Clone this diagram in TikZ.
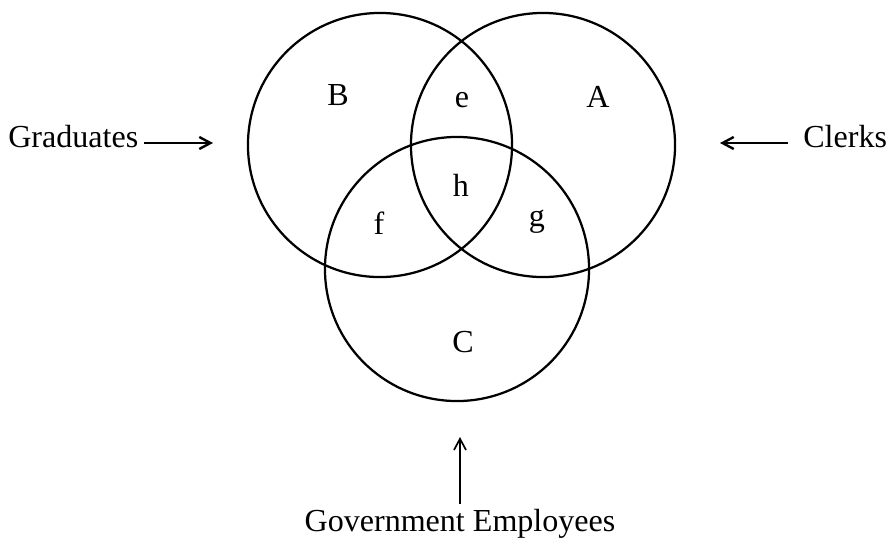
\documentclass[tikz,border=0pt]{standalone}
\usepackage{fontspec}
\setmainfont{Liberation Serif}
\usetikzlibrary{arrows.meta}

\begin{document}
\begin{tikzpicture}[x=0.025cm,y=-0.025cm,
    every node/.style={font=\fontsize{22.8}{27}\selectfont,inner sep=0pt},
    set/.style={line width=1.6pt},
    arr/.style={-{Straight Barb[length=0.28cm,width=0.3cm]},line width=1.7pt}]

  \useasboundingbox (0,0) rectangle (886,540);

  % sets
  \draw[set] (380,145) circle[radius=3.3cm];
  \draw[set] (543,145) circle[radius=3.3cm];
  \draw[set] (457,269) circle[radius=3.3cm];

  % regions
  \node (B) at (338,95) {B};
  \node (A) at (598,97) {A};
  \node (C) at (463,342) {C};
  \node (e) at (462,100) {e};
  \node (f) at (379,223) {f};
  \node (g) at (537,222) {g};
  \node (h) at (461,185) {h};

  % outside labels
  \node[anchor=base west] (grad) at (8,147) {Graduates};
  \node[anchor=base west] (clerks) at (803,147) {Clerks};
  \node[anchor=base] (govt) at (460,531) {Government Employees};

  %arrows
  \coordinate (gradtip) at (213,143);
  \coordinate (clerkstip) at (720,143);
  \coordinate (govttip) at (460,437);
  \draw[arr,shorten <=0.14cm] (grad.east |- gradtip) -- (gradtip);
  \draw[arr,shorten <=0.37cm] (clerks.west |- clerkstip) -- (clerkstip);
  \draw[arr,line width=1.2pt,shorten <=0.12cm] (govt.north) -- (govttip);
\end{tikzpicture}
\end{document}
